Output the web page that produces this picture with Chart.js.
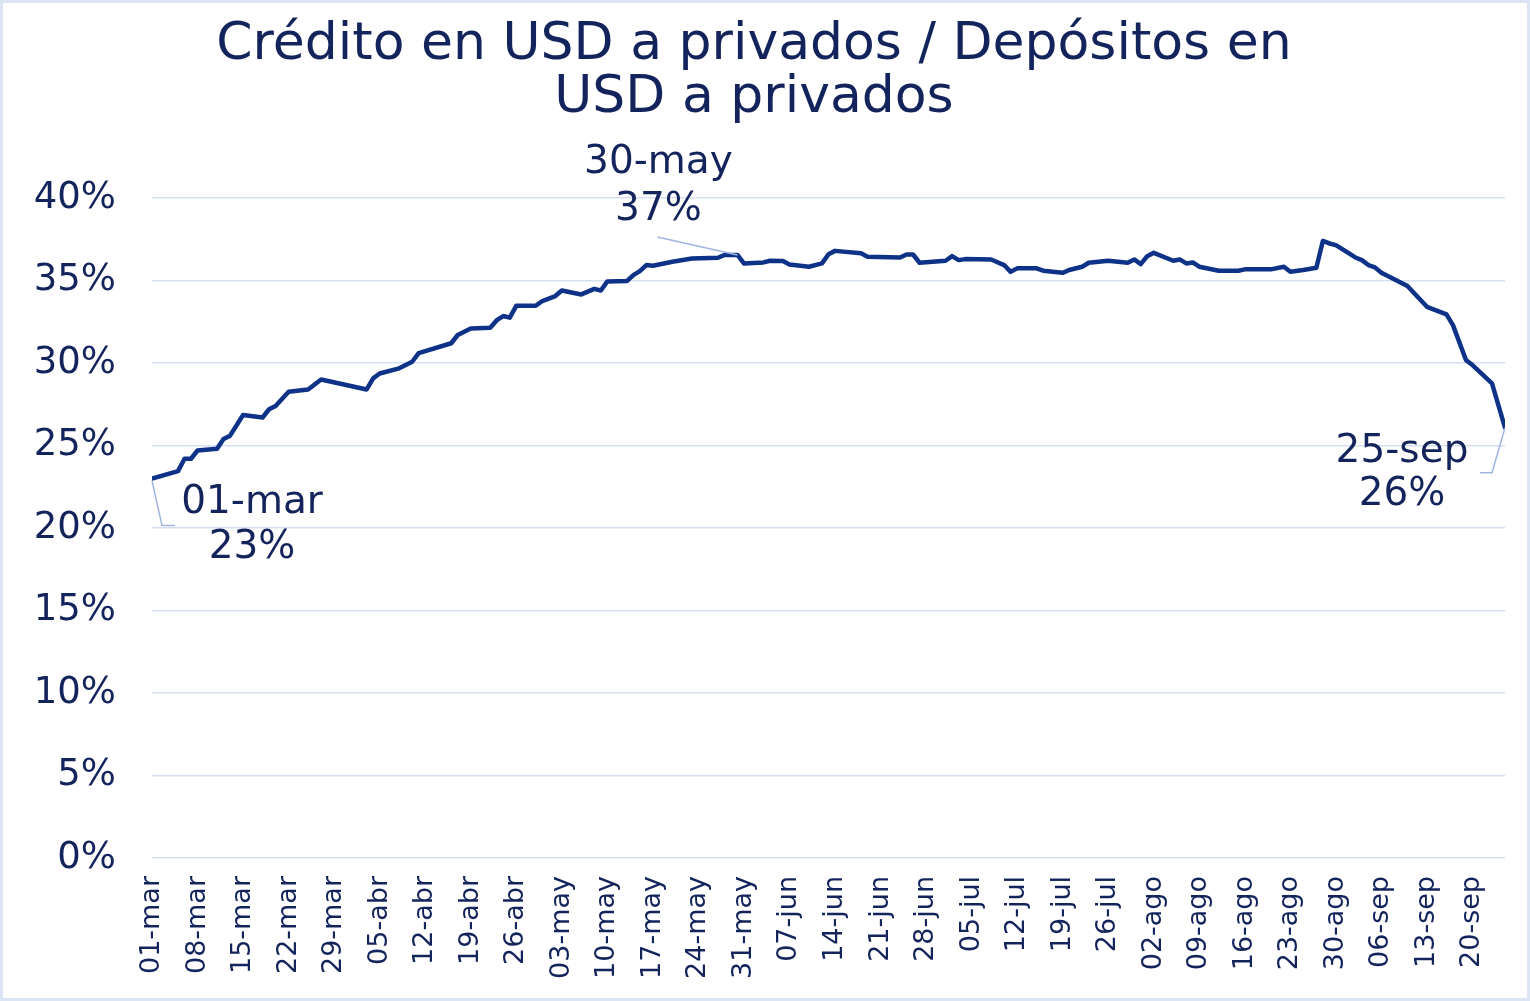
<!DOCTYPE html>
<html>
<head>
<meta charset="utf-8">
<script src="https://cdn.jsdelivr.net/npm/chart.js@4.4.1/dist/chart.umd.min.js"></script>
<style>
  html, body { margin: 0; padding: 0; background: #fff; }
  .frame {
    width: 1530px; height: 1001px; box-sizing: border-box;
    border: 3px solid #dbe4f4; background: #fff;
  }
  canvas { display: block; }
</style>
</head>
<body>
<div class="frame"><canvas id="myChart" width="1524" height="995"></canvas></div>
<script>
// days counted from 01-mar, value = credit / deposits in USD (%)
const pointDays = [
  0, 4, 5, 6, 7, 10, 11, 12, 14, 17, 18, 19, 21, 24, 26, 33, 34, 35, 38, 40,
  41, 46, 47, 49, 52, 53, 54, 55, 56, 59, 60, 62, 63, 66, 68, 69, 70, 73, 74, 75,
  76, 77, 80, 83, 87, 88, 90, 91, 94, 95, 97, 98, 101, 103, 104, 105, 109, 110, 115, 116,
  117, 118, 122, 123, 124, 125, 129, 131, 132, 133, 136, 137, 140, 141, 143, 144, 147, 150, 151, 152,
  153, 154, 157, 158, 159, 160, 161, 164, 167, 168, 172, 174, 175, 177, 179, 180, 181, 182, 185, 186,
  187, 188, 189, 193, 196, 199, 200, 202, 203, 206, 208
];
const ratioValues = [
  23.0, 23.45, 24.2, 24.2, 24.7, 24.8, 25.4, 25.6, 26.85, 26.7, 27.2, 27.4, 28.26, 28.4, 29.0, 28.4, 29.07, 29.37, 29.68, 30.08,
  30.6, 31.2, 31.7, 32.1, 32.14, 32.6, 32.85, 32.75, 33.47, 33.47, 33.76, 34.06, 34.4, 34.16, 34.5, 34.4, 34.95, 34.97, 35.33, 35.57,
  35.94, 35.9, 36.14, 36.34, 36.38, 36.55, 36.55, 36.04, 36.1, 36.2, 36.18, 35.98, 35.84, 36.04, 36.6, 36.8, 36.65, 36.45, 36.4, 36.58,
  36.58, 36.08, 36.2, 36.48, 36.24, 36.3, 36.28, 35.94, 35.53, 35.74, 35.74, 35.6, 35.47, 35.64, 35.84, 36.08, 36.2, 36.08, 36.28, 36.0,
  36.48, 36.68, 36.2, 36.28, 36.04, 36.1, 35.84, 35.6, 35.6, 35.68, 35.68, 35.84, 35.53, 35.64, 35.78, 37.4, 37.25, 37.15, 36.4, 36.24,
  35.94, 35.8, 35.47, 34.67, 33.41, 32.95, 32.3, 30.18, 29.88, 28.77, 26.08
];
const lastDay = 208;            // 25-sep
const monthNames = ['ene', 'feb', 'mar', 'abr', 'may', 'jun', 'jul', 'ago', 'sep', 'oct', 'nov', 'dic'];
const yTicks = [0, 5, 10, 15, 20, 25, 30, 35, 40];
const calloutDays = [0, 90, 208];
const titleLines = ['Crédito en USD a privados / Depósitos en', 'USD a privados'];

const textColor = '#13235b';
const lineColor = '#0d3288';
const gridColor = '#d5dff1';
const leaderColor = '#9fb5e0';
const fontFamily = '"DejaVu Sans", sans-serif';

function dayLabel(d) {
  const dt = new Date(Date.UTC(2021, 2, 1) + d * 86400000);
  const dd = String(dt.getUTCDate()).padStart(2, '0');
  return dd + '-' + monthNames[dt.getUTCMonth()];
}

// offsets of callout text / leader lines relative to the point
const calloutLayout = {
  0:   { text: [100, 24, 69], leader: [[0, 2], [10, 47], [23, 47]] },
  90:  { text: [-79, -92, -45], leader: [[0, 0], [-80, -18]] },
  208: { text: [-103, 24, 67], leader: [[0, 0], [-13, 45], [-25, 45]] }
};

const calloutPlugin = {
  id: 'callouts',
  afterDatasetsDraw(chart) {
    const ctx = chart.ctx;
    const xs = chart.scales.x, ys = chart.scales.y;
    calloutDays.forEach(day => {
      const i = pointDays.indexOf(day);
      const v = ratioValues[i];
      const px = xs.getPixelForValue(day);
      const py = ys.getPixelForValue(v);
      const lay = calloutLayout[day];
      ctx.save();
      ctx.strokeStyle = leaderColor;
      ctx.lineWidth = 1.5;
      ctx.beginPath();
      lay.leader.forEach((p, k) => {
        if (k === 0) ctx.moveTo(px + p[0], py + p[1]);
        else ctx.lineTo(px + p[0], py + p[1]);
      });
      ctx.stroke();
      ctx.fillStyle = textColor;
      ctx.font = '39px ' + fontFamily;
      ctx.textAlign = 'center';
      ctx.textBaseline = 'middle';
      ctx.fillText(dayLabel(day), px + lay.text[0], py + lay.text[1]);
      ctx.fillText(Math.round(v) + '%', px + lay.text[0], py + lay.text[2]);
      ctx.restore();
    });
  }
};

const ctx = document.getElementById('myChart').getContext('2d');
const myChart = new Chart(ctx, {
  type: 'line',
  data: {
    datasets: [{
      label: 'Crédito / Depósitos USD',
      data: pointDays.map((d, i) => ({ x: d, y: ratioValues[i] })),
      borderColor: lineColor,
      backgroundColor: lineColor,
      borderWidth: 4.5,
      pointRadius: 0,
      tension: 0,
      borderJoinStyle: 'round',
      borderCapStyle: 'round'
    }]
  },
  options: {
    responsive: false,
    animation: false,
    layout: { padding: { left: 0, right: 22, top: 0, bottom: 0 } },
    plugins: {
      legend: { display: false },
      tooltip: { enabled: false },
      title: {
        display: true,
        text: titleLines,
        color: textColor,
        font: { family: fontFamily, size: 52, weight: 'normal', lineHeight: 1.02 },
        padding: { top: 16, bottom: 73 }
      }
    },
    scales: {
      x: {
        type: 'linear',
        min: 0,
        max: lastDay,
        grid: { display: false },
        border: { display: false },
        afterFit: s => { s.height = 140; },
        afterBuildTicks: s => {
          s.ticks = [];
          for (let d = 0; d <= lastDay; d += 7) s.ticks.push({ value: d });
        },
        ticks: {
          color: textColor,
          font: { family: fontFamily, size: 27 },
          minRotation: 90,
          maxRotation: 90,
          padding: 10,
          autoSkip: false,
          callback: v => dayLabel(v)
        }
      },
      y: {
        min: 0,
        max: 40,
        afterFit: s => { s.width = 149; },
        afterBuildTicks: s => { s.ticks = yTicks.map(v => ({ value: v })); },
        grid: { color: gridColor, lineWidth: 1.5, drawTicks: false },
        border: { display: false },
        ticks: {
          color: textColor,
          font: { family: fontFamily, size: 37 },
          padding: 36,
          callback: v => v + '%'
        }
      }
    }
  },
  plugins: [calloutPlugin]
});
</script>
</body>
</html>
